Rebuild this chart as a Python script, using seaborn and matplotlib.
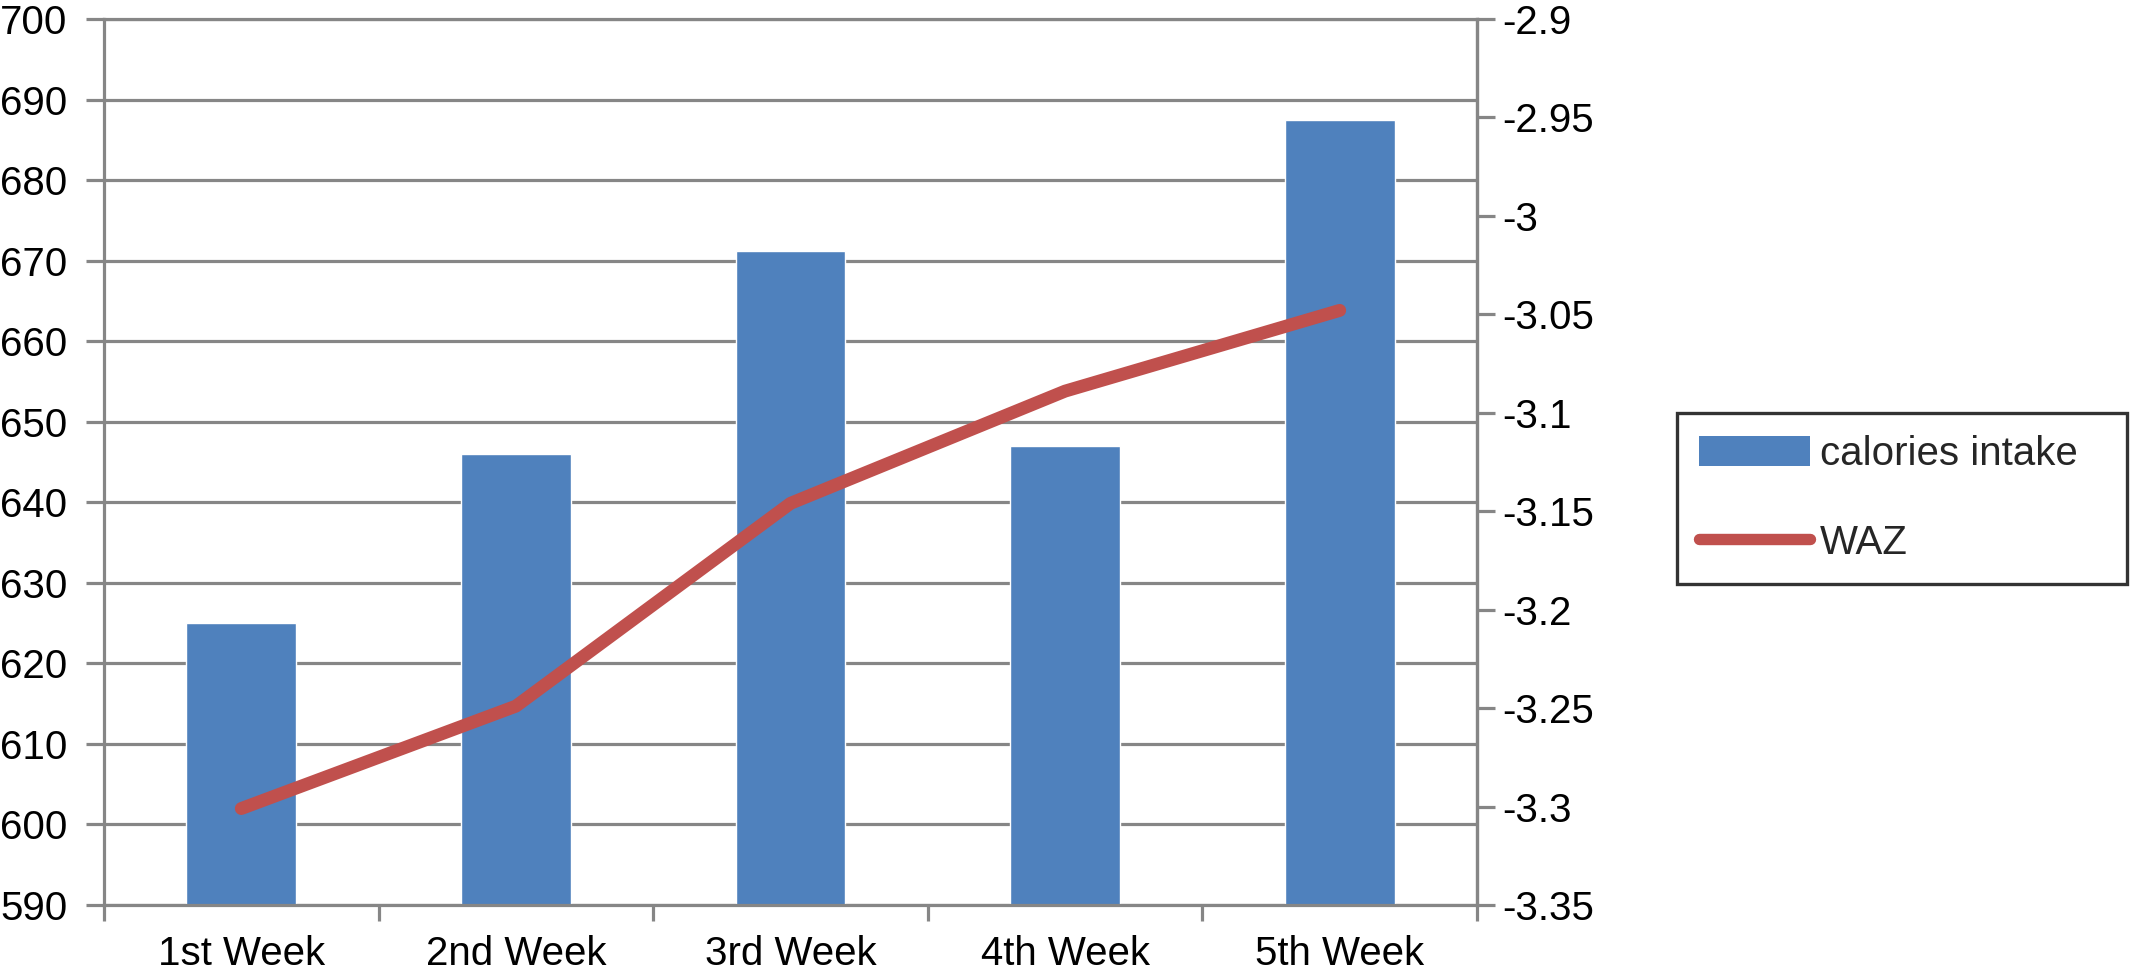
import numpy as np
import pandas as pd
import matplotlib
matplotlib.use("Agg")
import matplotlib.pyplot as plt
import seaborn as sns
from matplotlib.patches import Patch
from matplotlib.lines import Line2D

# ---- data ----
weeks = ["1st Week", "2nd Week", "3rd Week", "4th Week", "5th Week"]
calories = [625.0, 646.0, 671.2, 647.0, 687.4]
waz = [-3.301, -3.249, -3.146, -3.089, -3.048]
left_ticks = [590, 600, 610, 620, 630, 640, 650, 660, 670, 680, 690, 700]
right_ticks = [-3.35, -3.3, -3.25, -3.2, -3.15, -3.1, -3.05, -3.0, -2.95, -2.9]
right_labels = ["-3.35", "-3.3", "-3.25", "-3.2", "-3.15", "-3.1", "-3.05", "-3", "-2.95", "-2.9"]
series_names = ["calories intake", "WAZ"]

BAR_C = "#4F81BD"
LINE_C = "#C0504D"
GRID_C = "#868686"
FS = 29
LW_LINE = 9.3
LW_GRID = 2.3

sns.set_style("white")
plt.rcParams['font.family'] = ['Liberation Sans', 'DejaVu Sans']

W, H = 2131, 975
fig = plt.figure(figsize=(W / 100, H / 100), dpi=100)
L, R, T, B = 104, 1477, 19, 905
ax = fig.add_axes([L / W, 1 - B / H, (R - L) / W, (B - T) / H])

df = pd.DataFrame({"week": weeks, "calories": calories, "waz": waz,
                   "pos": np.arange(len(weeks))})

sns.barplot(data=df, x="week", y="calories", color=BAR_C, saturation=1,
            width=0.4, ax=ax, zorder=2)
ax.set_ylim(590, 700)
ax.set_yticks(left_ticks)
ax.set_yticklabels([str(t) for t in left_ticks])
ax.set_axisbelow(True)
ax.yaxis.grid(True, color=GRID_C, linewidth=LW_GRID)
ax.xaxis.grid(False)
ax.set_xlabel("")
ax.set_ylabel("")

ax2 = ax.twinx()
sns.lineplot(data=df, x="pos", y="waz", ax=ax2, color=LINE_C, linewidth=LW_LINE,
             sort=False, solid_capstyle="round", solid_joinstyle="round")
ax2.set_ylim(-3.35, -2.9)
ax2.set_yticks(right_ticks)
ax2.set_yticklabels(right_labels)
ax2.grid(False)
ax2.set_ylabel("")
ax2.set_xlabel("")

# x axis: boundary ticks + centered labels
ax.set_xlim(-0.5, len(weeks) - 0.5)
ax.set_xticks(np.arange(-0.5, len(weeks), 1.0))
ax.set_xticklabels([""] * (len(weeks) + 1))
ax.set_xticks(np.arange(len(weeks)), minor=True)
ax.set_xticklabels(weeks, minor=True)
ax.tick_params(axis="x", which="major", direction="out", length=11.5, width=LW_GRID,
               color=GRID_C, bottom=True)
ax.tick_params(axis="x", which="minor", length=0, pad=21.5, labelsize=FS,
               labelcolor="black", bottom=True)
ax.tick_params(axis="y", which="major", direction="out", length=13, width=LW_GRID,
               color=GRID_C, pad=13.5, labelsize=FS, labelcolor="black", left=True)
ax2.tick_params(axis="y", which="major", direction="out", length=13, width=LW_GRID,
                color=GRID_C, pad=5, labelsize=FS, labelcolor="black", right=True)

for a in (ax, ax2):
    for s in a.spines.values():
        s.set_color(GRID_C)
        s.set_linewidth(LW_GRID)
ax2.spines["left"].set_visible(False)
ax2.spines["bottom"].set_visible(False)
ax2.spines["top"].set_visible(False)

# legend
handles = [Patch(facecolor=BAR_C, edgecolor="none", label=series_names[0]),
           Line2D([0], [0], color=LINE_C, linewidth=8.2, solid_capstyle="round",
                  label=series_names[1])]
lx0, lx1, ly0, ly1 = 1677, 2127, 413, 588
leg = fig.legend(handles=handles, loc="upper left",
                 bbox_to_anchor=(lx0 / W, 1 - ly1 / H, (lx1 - lx0) / W, (ly1 - ly0) / H),
                 mode="expand", borderaxespad=0, fontsize=FS, frameon=True,
                 fancybox=False, edgecolor="black", handlelength=2.75,
                 handleheight=0.75, handletextpad=0.25, labelspacing=1.25,
                 borderpad=0.55)
leg.get_frame().set_linewidth(2.4)

fig.savefig("out.png", dpi=100)
